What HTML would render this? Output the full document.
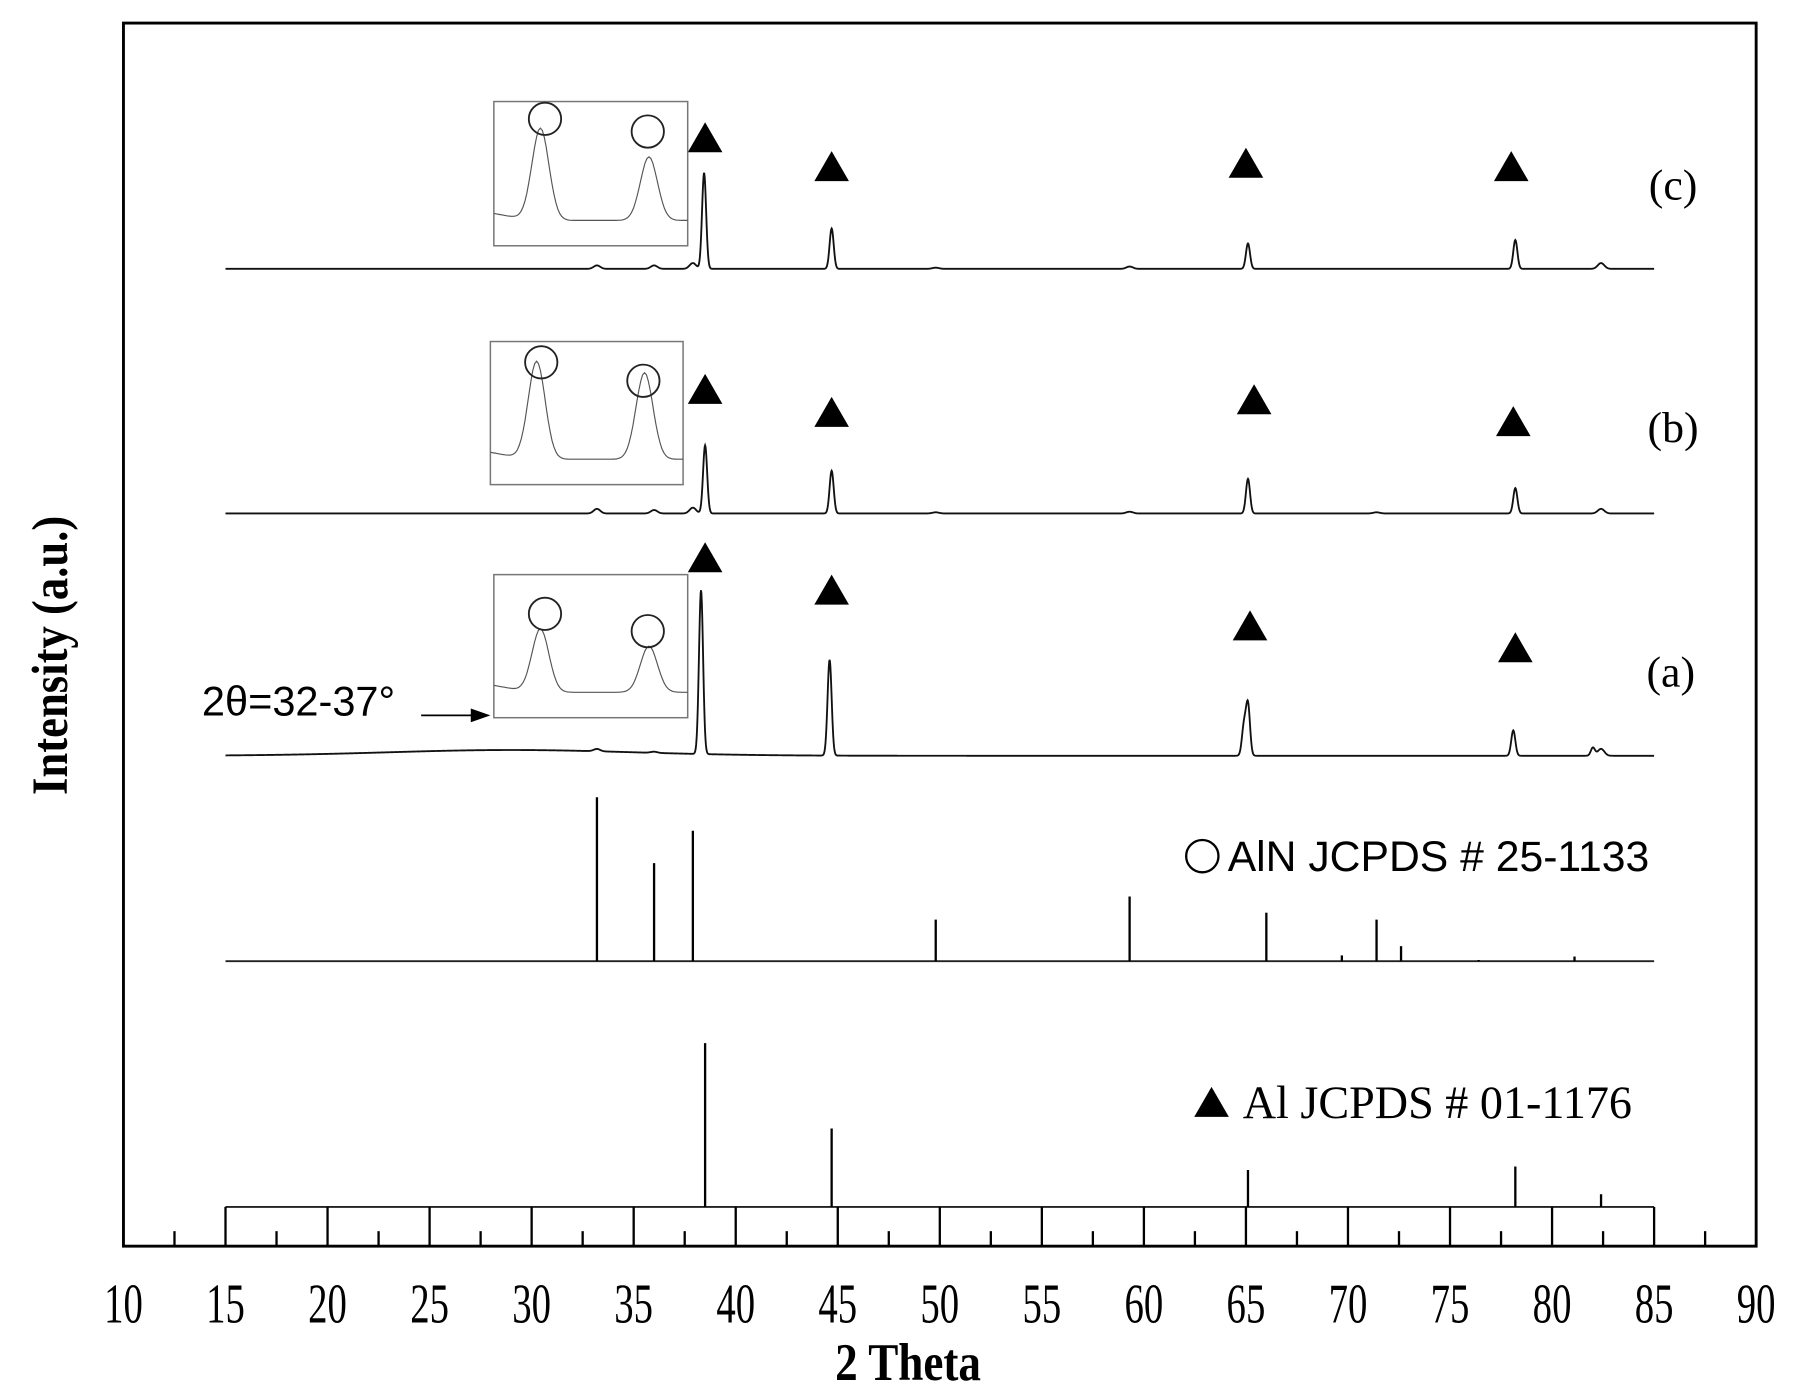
<!DOCTYPE html>
<html><head><meta charset="utf-8"><style>
html,body{margin:0;padding:0;background:#fff;}
svg{display:block;}
</style></head><body>
<svg id="chart" xmlns="http://www.w3.org/2000/svg" width="1800" height="1400" viewBox="0 0 1560 1213.33">
<rect width="1560" height="1214" fill="#fff"/>
<g id="plot"></g>
<rect x="107" y="20" width="1415" height="1060" fill="none" stroke="#000" stroke-width="2.5"/>
<g id="ticks"></g>
<text transform="translate(787,1196) scale(0.85,1)" text-anchor="middle" font-family="Liberation Serif, serif" font-weight="bold" font-size="46">2  Theta</text>
<text transform="translate(58,568) rotate(-90) scale(0.88,1)" text-anchor="middle" font-family="Liberation Serif, serif" font-weight="bold" font-size="44">Intensity (a.u.)</text>
<text x="1450" y="173" text-anchor="middle" font-family="Liberation Serif, serif" font-size="38">(c)</text>
<text x="1450" y="383" text-anchor="middle" font-family="Liberation Serif, serif" font-size="38">(b)</text>
<text x="1448" y="595" text-anchor="middle" font-family="Liberation Serif, serif" font-size="38">(a)</text>
<g>
<circle cx="1042" cy="742" r="14" fill="none" stroke="#000" stroke-width="2"/>
<text x="1064" y="755" font-family="Liberation Sans, sans-serif" font-size="37">AlN JCPDS # 25-1133</text>
</g>
<g>
<polygon points="1050,942 1065,968 1035,968" fill="#000"/>
<text x="1077" y="969" font-family="Liberation Serif, serif" font-size="40">Al JCPDS # 01-1176</text>
</g>
<text x="175" y="620" font-family="Liberation Sans, sans-serif" font-size="36">2θ=32-37°</text>
<g>
<line x1="365" y1="620" x2="412" y2="620" stroke="#000" stroke-width="1.5"/>
<polygon points="425,620 408,614 408,626" fill="#000"/>
</g>
</svg>
<script>
const xTicks = [10,15,20,25,30,35,40,45,50,55,60,65,70,75,80,85,90];
const seriesC = [[33.2,3],[36.0,3],[37.9,5],[38.45,83],[44.7,35],[49.8,1],[59.3,2],[65.1,22],[78.2,25],[82.4,5]];
const seriesB = [[33.2,4],[36.0,3],[37.9,5],[38.5,59],[44.7,37],[49.8,1],[59.3,1.5],[65.1,30],[71.4,1],[78.2,22],[82.4,4]];
const seriesA = [[33.2,2],[36.0,1],[38.3,142],[44.6,83],[64.9,25],[65.1,44],[78.1,22],[82.0,7],[82.4,6]];
const alnSticks = [[33.2,142],[36.0,85],[37.9,113],[49.8,36],[59.3,56],[66.0,42],[69.7,5],[71.4,36],[72.6,13],[76.4,1],[81.1,4]];
const alSticks = [[38.5,142],[44.7,68],[65.1,32],[78.2,35],[82.4,11]];
const insetC = [[33.2,80],[36.0,55]];
const insetB = [[33.2,85],[36.0,75]];
const insetA = [[33.2,55],[36.0,40]];
const trianglesC = [38.5,44.7,65.0,78.0];
const trianglesB = [38.5,44.7,65.4,78.1];
const trianglesA = [38.5,44.7,65.2,78.2];

const NS='http://www.w3.org/2000/svg';
const plot=document.getElementById('plot');
const tg=document.getElementById('ticks');
const X=v=>107+(v-10)*17.6875;
function mk(tag,attrs,parent){const e=document.createElementNS(NS,tag);for(const k in attrs)e.setAttribute(k,attrs[k]);parent.appendChild(e);return e;}

xTicks.forEach((t)=>{
  if(t>10&&t<90){const l=mk('line',{x1:X(t),x2:X(t),y1:1080,y2:1046,stroke:'#000','stroke-width':2},tg);
  
  }
  if(t<90){const m=mk('line',{x1:X(t+2.5),x2:X(t+2.5),y1:1080,y2:1067,stroke:'#000','stroke-width':2},tg);
  
  }
  const tx=mk('text',{x:0,y:0,'text-anchor':'middle','font-family':'Liberation Serif, serif','font-size':42,transform:`translate(${X(t)},1146) scale(0.8,1.15)`},tg);
  tx.textContent=t;
  
  
});

function profile(peaks,v,sig){let s=0;for(const [p,h] of peaks){const w=(h<=6?sig*1.6:sig);s+=h*Math.exp(-0.5*((v-p)/w)**2);}return s;}
function pattern(peaks,base,name,hump){
  let d='';
  for(let v=15;v<=85.0001;v+=0.02){
    let y=base-profile(peaks,v,0.1);
    if(hump) y-=hump*Math.exp(-0.5*((v-29)/6)**2);
    d+=(d?'L':'M')+X(v).toFixed(2)+','+y.toFixed(2);
  }
  const p=mk('path',{d:d,fill:'none',stroke:'#111','stroke-width':1.6},plot);
  
  
}
pattern(seriesC,233,'pattern-c',0);
pattern(seriesB,445,'pattern-b',0);
pattern(seriesA,655,'pattern-a',5);

function sticks(arr,base,name){
  mk('line',{x1:X(15),x2:X(85),y1:base,y2:base,stroke:'#222','stroke-width':1.6},plot);
  arr.forEach(([p,h])=>{const l=mk('line',{x1:X(p),x2:X(p),y1:base,y2:base-h,stroke:'#000','stroke-width':2},plot);
  
  });
}
sticks(alnSticks,833,'aln-reference-stick');
sticks(alSticks,1046,'al-reference-stick');

function triangles(arr,ys,name){
  arr.forEach((v,i)=>{const x=X(v),y=ys[i];
  const t=mk('polygon',{points:`${x},${y-14} ${x+15},${y+12} ${x-15},${y+12}`,fill:'#000'},plot);
  
  });
}
triangles(trianglesC,[120,145,142,145],'al-marker-c');
triangles(trianglesB,[338,358,347,366],'al-marker-b');
triangles(trianglesA,[484,512,543,562],'al-marker-a');

function inset(peaks,bx,by,bw,bh,name,circY){
  const g=mk('g',{},plot);
  
  
  mk('rect',{x:bx,y:by,width:bw,height:bh,fill:'#fff',stroke:'#777','stroke-width':1.3},g);
  const IX=v=>bx+(v-32)/5*bw;
  const base=by+bh-22;
  let d='';
  for(let v=32;v<=37.0001;v+=0.05){
    const y=base-profile(peaks,v,0.22)+ (v<33?-6*(33-v):0);
    d+=(d?'L':'M')+IX(v).toFixed(1)+','+y.toFixed(1);
  }
  mk('path',{d:d,fill:'none',stroke:'#555','stroke-width':1},g);
  peaks.forEach(([p,h],i)=>mk('circle',{cx:IX(p)+(i?-1:4),cy:circY[i],r:14,fill:'none',stroke:'#222','stroke-width':1.6},g));
}
inset(insetC,428,88,168,125,'inset-c',[103,114]);
inset(insetB,425,296,167,124,'inset-b',[314,330]);
inset(insetA,428,498,168,124,'inset-a',[532,547]);
</script>
</body></html>
